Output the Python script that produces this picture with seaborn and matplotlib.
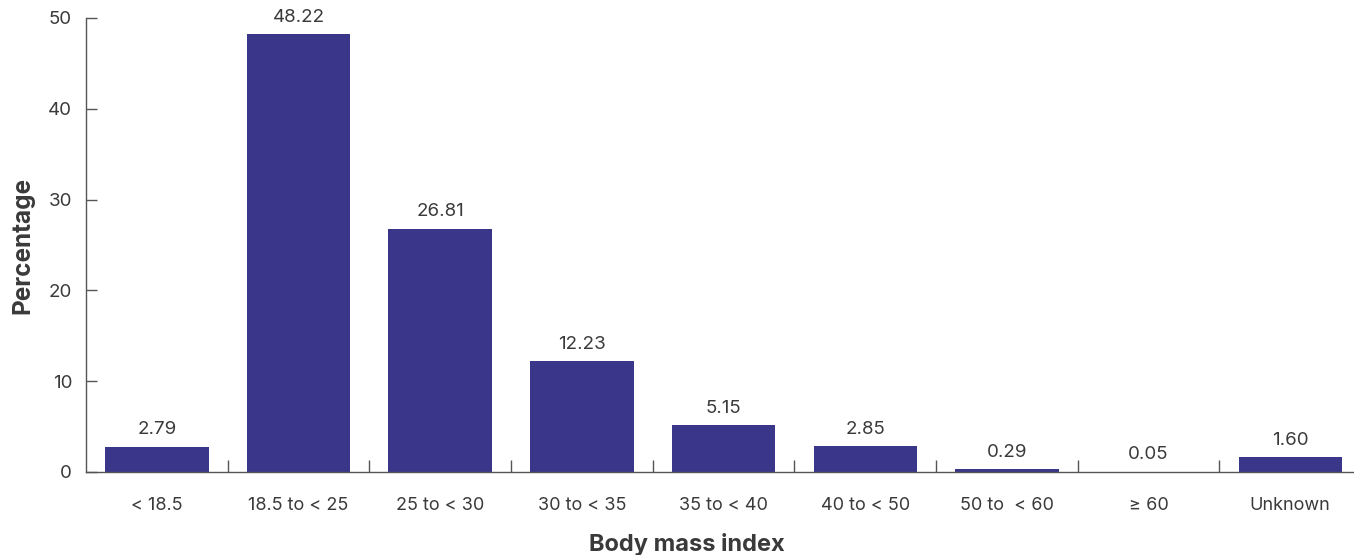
import matplotlib
matplotlib.use("Agg")
import matplotlib.pyplot as plt
import seaborn as sns
import pandas as pd
import numpy as np

sns.set_style("white")
plt.rcParams['font.family'] = ['Inter', 'DejaVu Sans']

categories = ["< 18.5", "18.5 to < 25", "25 to < 30", "30 to < 35", "35 to < 40",
              "40 to < 50", "50 to  < 60", "\u2265 60", "Unknown"]
percent = [2.79, 48.22, 26.81, 12.23, 5.15, 2.85, 0.29, 0.05, 1.60]
value_labels = ["2.79", "48.22", "26.81", "12.23", "5.15", "2.85", "0.29", "0.05", "1.60"]

bar_color = "#3A378B"
text_color = "#3a3a3a"
axis_color = "#555555"

df = pd.DataFrame({"bmi": categories, "pct": percent})

fig = plt.figure(figsize=(13.54, 5.55), dpi=100)
ax = fig.add_axes([86 / 1354, 1 - 472 / 555, 1 - 86 / 1354, (472 - 18) / 555])

sns.barplot(data=df, x="bmi", y="pct", color=bar_color, width=0.73,
            saturation=1, linewidth=0, ax=ax)

# value labels above each bar
for i, (v, lab) in enumerate(zip(percent, value_labels)):
    ax.annotate(lab, (i, v), xytext=(0, 6), textcoords="offset points",
                ha="center", va="bottom", fontsize=13.5, color=text_color)

ax.set_ylim(0, 50)
ax.set_xlim(-0.5, 8.45)
ax.set_yticks([0, 10, 20, 30, 40, 50])

sns.despine(ax=ax, top=True, right=True)
for s in ["left", "bottom"]:
    ax.spines[s].set_color(axis_color)
    ax.spines[s].set_linewidth(1.0)

ax.tick_params(axis="y", direction="in", length=8, width=1, color=axis_color,
               labelsize=13.5, labelcolor=text_color, pad=10, left=True)
ax.tick_params(axis="x", which="major", length=0, labelsize=13,
               labelcolor=text_color, pad=18)
# separator ticks between categories
ax.set_xticks(np.arange(0.5, 8.5, 1), minor=True)
ax.tick_params(axis="x", which="minor", direction="in", length=9, width=1,
               color=axis_color, bottom=True)

ax.set_xlabel("Body mass index", fontsize=17, fontweight="bold", color=text_color)
ax.xaxis.set_label_coords((687 - 86) / 1268, -0.135)
ax.set_ylabel("Percentage", fontsize=17.5, fontweight="bold", color=text_color,
              labelpad=10)

fig.savefig("out.png", dpi=100)
